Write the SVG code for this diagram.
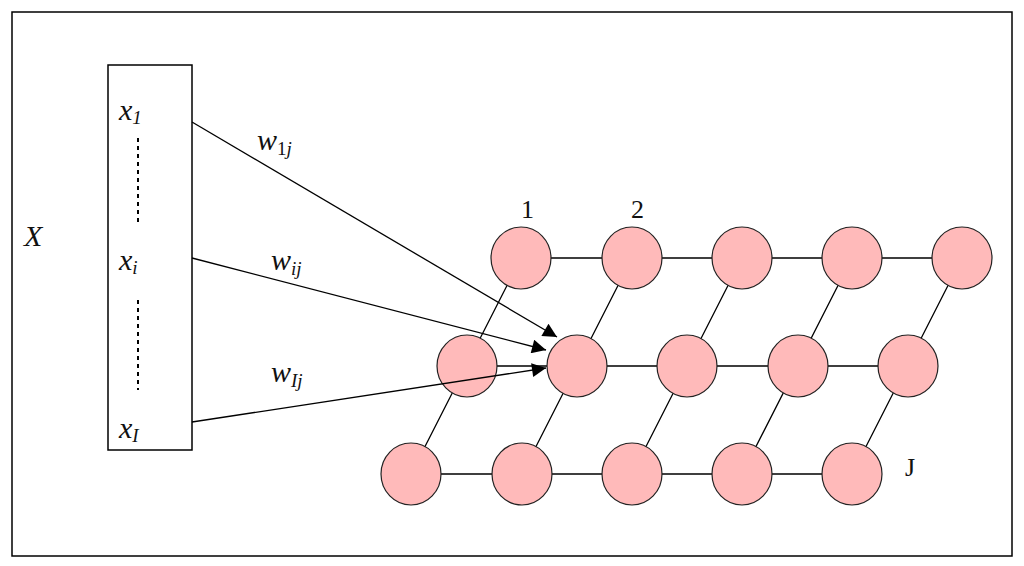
<svg xmlns="http://www.w3.org/2000/svg" width="1024" height="566" viewBox="0 0 1024 566">
<defs>
<marker id="ab" viewBox="0 0 10 10" refX="10" refY="5" markerWidth="26" markerHeight="14" markerUnits="userSpaceOnUse" orient="auto"><path d="M0,0 L10,5 L0,10 z" fill="#000"/></marker>
</defs>
<style>
.n{fill:#ffbaba;stroke:#222;stroke-width:1.2}
.l{stroke:#000;stroke-width:1.3;fill:none}
.m{font-family:"Liberation Serif",serif;font-style:italic;font-size:30px;fill:#111}
.s{font-family:"Liberation Serif",serif;font-style:italic;font-size:19px;fill:#111}
.t{font-family:"Liberation Serif",serif;font-size:26px;fill:#111}
</style>
<rect x="12" y="12" width="1000" height="544" fill="#fff" stroke="#000" stroke-width="1.5"/>
<rect x="108" y="65" width="84" height="385" fill="none" stroke="#000" stroke-width="1.5"/>
<line x1="138" y1="138" x2="138" y2="222" stroke="#000" stroke-width="2" stroke-dasharray="4,4"/>
<line x1="138" y1="300" x2="138" y2="390" stroke="#000" stroke-width="2" stroke-dasharray="4,4"/>
<text class="m" x="24" y="246">X</text>
<text class="m" x="119" y="120">x<tspan class="s" dy="4" font-style="normal">1</tspan></text>
<text class="m" x="119" y="270">x<tspan class="s" dy="4">i</tspan></text>
<text class="m" x="119" y="438">x<tspan class="s" dy="4">I</tspan></text>
<text class="m" x="257" y="150">w<tspan class="s" dy="5"><tspan font-style="normal">1</tspan>j</tspan></text>
<text class="m" x="271" y="270">w<tspan class="s" dy="5">ij</tspan></text>
<text class="m" x="271" y="382">w<tspan class="s" dy="5">Ij</tspan></text>
<text class="t" x="521" y="218">1</text>
<text class="t" x="631" y="218">2</text>
<text class="t" x="905" y="476" font-size="22">J</text>
<g id="connectors">
<path class="l" d="M441,474H852M467,366H908M521,258H962"/>
<path class="l" d="M411,474L521,258M522,474L632,258M632,474L742,258M742,474L852,258M852,474L962,258"/>
</g>
<g id="nodes">
<g id="t1"><ellipse class="n" cx="521" cy="258" rx="30" ry="31"/></g>
<g id="t2"><ellipse class="n" cx="632" cy="258" rx="30" ry="31"/></g>
<g id="t3"><ellipse class="n" cx="742" cy="258" rx="30" ry="31"/></g>
<g id="t4"><ellipse class="n" cx="852" cy="258" rx="30" ry="31"/></g>
<g id="t5"><ellipse class="n" cx="962" cy="258" rx="30" ry="31"/></g>
<g id="m1"><ellipse class="n" cx="467" cy="366" rx="30" ry="31"/></g>
<g id="m2"><ellipse class="n" cx="577" cy="366" rx="30" ry="31"/></g>
<g id="m3"><ellipse class="n" cx="687" cy="366" rx="30" ry="31"/></g>
<g id="m4"><ellipse class="n" cx="798" cy="366" rx="30" ry="31"/></g>
<g id="m5"><ellipse class="n" cx="908" cy="366" rx="30" ry="31"/></g>
<g id="b1"><ellipse class="n" cx="411" cy="474" rx="30" ry="31"/></g>
<g id="b2"><ellipse class="n" cx="522" cy="474" rx="30" ry="31"/></g>
<g id="b3"><ellipse class="n" cx="632" cy="474" rx="30" ry="31"/></g>
<g id="b4"><ellipse class="n" cx="742" cy="474" rx="30" ry="31"/></g>
<g id="b5"><ellipse class="n" cx="852" cy="474" rx="30" ry="31"/></g>
</g>
<g id="weights">
<line class="l" x1="192" y1="122" x2="557" y2="337" marker-end="url(#ab)"/>
<line class="l" x1="192" y1="258" x2="546" y2="350" marker-end="url(#ab)"/>
<line class="l" x1="192" y1="422" x2="546" y2="368" marker-end="url(#ab)"/>
</g>
</svg>
